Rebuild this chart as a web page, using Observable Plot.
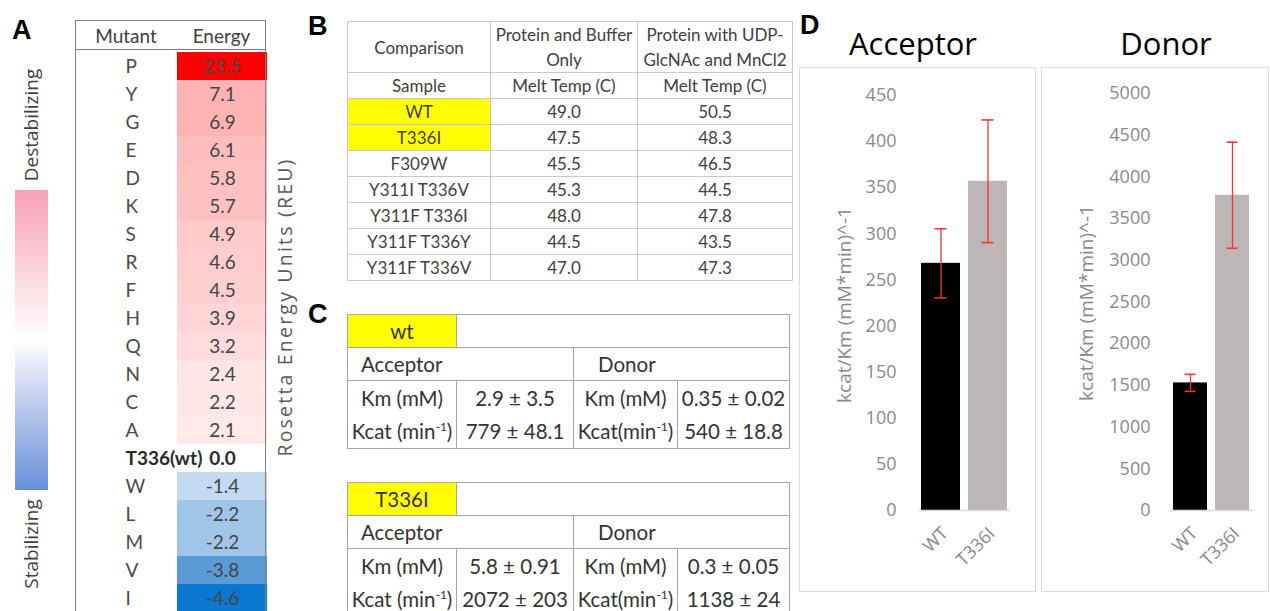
<!DOCTYPE html>
<html><head><meta charset="utf-8">
<script src="https://cdn.jsdelivr.net/npm/d3@7"></script>
<script src="https://cdn.jsdelivr.net/npm/@observablehq/plot@0.6"></script>
<style>
html,body{margin:0;padding:0;background:#fff;overflow:hidden;}
#root{position:relative;width:1270px;height:611px;overflow:hidden;font-family:Lato,sans-serif;background:#fff;}
.abs{position:absolute;}
.plabel{position:absolute;font-family:"Liberation Sans",Arial,sans-serif;font-weight:bold;font-size:27px;color:#000;line-height:1;}
.rot{position:absolute;transform:translate(-50%,-50%) rotate(-90deg);white-space:nowrap;line-height:1;}
table.t{position:absolute;border-collapse:collapse;table-layout:fixed;}
#tb{left:347px;top:21px;width:445px;font-size:17px;color:#404040;}
#tb td{border:1px solid #c8c8c8;text-align:center;padding:0;line-height:25px;white-space:nowrap;}
.tc{left:347px;width:442px;font-size:20.5px;color:#333;}
.tc td{border:1px solid #a5a5a5;text-align:center;padding:0;white-space:nowrap;line-height:1;}
.tc sup{font-size:12px;}
.yel{background:#ffff00;}
.ttl{position:absolute;font-family:"Open Sans",sans-serif;font-size:31px;line-height:1;color:#000;transform:translateX(-50%);white-space:nowrap;}
.frame{position:absolute;border:1.5px solid #dcdcdc;box-sizing:border-box;}
</style></head>
<body><div id="root"></div>
<script>
// ---------- data ----------
const mutants = ["P","Y","G","E","D","K","S","R","F","H","Q","N","C","A","T336(wt)","W","L","M","V","I"];
const energies = [23.5,7.1,6.9,6.1,5.8,5.7,4.9,4.6,4.5,3.9,3.2,2.4,2.2,2.1,0.0,-1.4,-2.2,-2.2,-3.8,-4.6];

const meltSamples = ["WT","T336I","F309W","Y311I T336V","Y311F T336I","Y311F T336Y","Y311F T336V"];
const meltBuffer = ["49.0","47.5","45.5","45.3","48.0","44.5","47.0"];
const meltLigand = ["50.5","48.3","46.5","44.5","47.8","43.5","47.3"];
const highlighted = ["WT","T336I"];

const kinVariants = ["wt","T336I"];
const accKm = ["2.9 ± 3.5","5.8 ± 0.91"];
const accKcat = ["779 ± 48.1","2072 ± 203"];
const donKm = ["0.35 ± 0.02","0.3 ± 0.05"];
const donKcat = ["540 ± 18.8","1138 ± 24"];

const samples = ["WT","T336I"];
const acceptorEff = [268, 357];
const acceptorErr = [37.5, 66.5];
const donorEff = [1530, 3780];
const donorErr = [102, 636];
const acceptorTicks = [0,50,100,150,200,250,300,350,400,450];
const donorTicks = [0,500,1000,1500,2000,2500,3000,3500,4000,4500,5000];

// ---------- helpers ----------
const root = document.getElementById("root");
function el(tag, cls, style, html){
  const e = document.createElement(tag);
  if (cls) e.className = cls;
  if (style) e.setAttribute("style", style);
  if (html != null) e.innerHTML = html;
  root.appendChild(e);
  return e;
}

// ---------- panel labels ----------
el("div","plabel","left:12px;top:17px;","A");
el("div","plabel","left:308px;top:13px;","B");
el("div","plabel","left:308px;top:301px;","C");
el("div","plabel","left:800px;top:12px;","D");

// ---------- Panel A ----------
el("div","abs","left:15px;top:190px;width:33px;height:300px;background:linear-gradient(to bottom,#f8a0b4 0%,#fde3e9 35%,#ffffff 50%,#c5d3f0 68%,#6890d9 100%);");
el("div","rot","left:31px;top:125px;font-family:'Open Sans';font-size:19px;color:#404040;","Destabilizing");
el("div","rot","left:31px;top:544px;font-family:'Open Sans';font-size:19px;color:#404040;","Stabilizing");
el("div","rot","left:285px;top:307px;font-family:'Open Sans';font-size:19.5px;letter-spacing:2.2px;color:#595959;","Rosetta Energy Units (REU)");

const aData = mutants.map((m,i)=>({mutant:m, energy:energies[i], col:"Energy"}));
const plotA = Plot.plot({
  width:192, height:593, marginTop:30, marginBottom:0, marginLeft:102, marginRight:0,
  x:{domain:["Energy"], padding:0, axis:null},
  y:{domain:mutants, padding:0, axis:null},
  color:{type:"linear", domain:[-4.6,-3.8,0,23.5], range:["#0a78d0","#5b9bd5","#ffffff","#ff0000"]},
  style:{fontFamily:"Lato", fontSize:"19px", background:"transparent", overflow:"visible"},
  marks:[
    Plot.cell(aData,{x:"col", y:"mutant", fill:"energy", inset:0}),
    Plot.text(aData,{filter:d=>d.energy!==0, x:"col", y:"mutant", text:d=>d.energy.toFixed(1), fill:"#454545"}),
    Plot.text(aData,{filter:d=>d.energy===0, x:"col", y:"mutant", text:d=>d.energy.toFixed(1), fill:"#2a2a2a", fontWeight:"bold"}),
    Plot.text(aData,{filter:d=>d.energy!==0, y:"mutant", text:"mutant", frameAnchor:"left", dx:-52, fill:"#4a4a4a"}),
    Plot.text(aData,{filter:d=>d.energy===0, y:"mutant", text:"mutant", frameAnchor:"left", dx:-52, fill:"#2a2a2a", fontWeight:"bold"})
  ]
});
const aWrap = el("div","abs","left:75px;top:20px;");
aWrap.appendChild(plotA);
el("div","abs","left:75px;top:20px;width:191px;height:620px;border:1.5px solid #808080;box-sizing:border-box;");
el("div","abs","left:75px;top:49px;width:191px;height:0;border-top:1.5px solid #808080;");
el("div","abs","left:75px;top:20px;width:102px;height:30px;line-height:31px;text-align:center;font-size:19px;color:#404040;","Mutant");
el("div","abs","left:177px;top:20px;width:89px;height:30px;line-height:31px;text-align:center;font-size:19px;color:#404040;","Energy");

// ---------- Panel B ----------
(function(){
  const t = el("table","t","");
  t.id = "tb";
  const widths=[143,147,155];
  let h = "<colgroup>"+widths.map(w=>`<col style="width:${w}px">`).join("")+"</colgroup>";
  h += `<tr style="height:51px"><td>Comparison</td><td>Protein and Buffer<br>Only</td><td>Protein with UDP-<br>GlcNAc and MnCl2</td></tr>`;
  h += `<tr style="height:25px"><td>Sample</td><td>Melt Temp (C)</td><td>Melt Temp (C)</td></tr>`;
  const rh=[26,26,25,26,26,26,25];
  meltSamples.forEach((s,i)=>{
    h += `<tr style="height:${rh[i]}px"><td class="${highlighted.includes(s)?'yel':''}">${s}</td><td>${meltBuffer[i]}</td><td>${meltLigand[i]}</td></tr>`;
  });
  t.innerHTML = h;
})();

// ---------- Panel C ----------
function kinTable(i, top){
  const t = el("table","t tc","top:"+top+"px;");
  const widths=[109,117,104,112];
  let h = "<colgroup>"+widths.map(w=>`<col style="width:${w}px">`).join("")+"</colgroup>";
  h += `<tr style="height:33px"><td class="yel">${kinVariants[i]}</td><td colspan="3"></td></tr>`;
  h += `<tr style="height:33px"><td colspan="2" style="text-align:left;padding-left:13px">Acceptor</td><td colspan="2" style="text-align:left;padding-left:24px">Donor</td></tr>`;
  h += `<tr style="height:34px"><td style="border-bottom:none">Km (mM)</td><td style="border-bottom:none">${accKm[i]}</td><td style="border-bottom:none">Km (mM)</td><td style="border-bottom:none">${donKm[i]}</td></tr>`;
  h += `<tr style="height:34px"><td style="border-top:none">Kcat (min<sup>-1</sup>)</td><td style="border-top:none">${accKcat[i]}</td><td style="border-top:none">Kcat(min<sup>-1</sup>)</td><td style="border-top:none">${donKcat[i]}</td></tr>`;
  t.innerHTML = h;
}
kinTable(0, 314);
kinTable(1, 482);

// ---------- Panel D ----------
function barChart(vals, errs, ticks, opts){
  const data = samples.map((s,i)=>({sample:s, v:vals[i], lo:vals[i]-errs[i], hi:vals[i]+errs[i]}));
  const capInset = (opts.band-12)/2;
  return Plot.plot({
    width:opts.width, height:525, marginTop:opts.mt, marginBottom:82, marginLeft:opts.ml, marginRight:opts.mr,
    x:{domain:samples, paddingInner:opts.pi, paddingOuter:opts.po, axis:null},
    y:{domain:[0, ticks[ticks.length-1]]},
    color:{domain:samples, range:["#000000","#bdb6b6"]},
    style:{fontFamily:"Open Sans", fontSize:"18px", color:"#898989", background:"transparent", overflow:"visible"},
    marks:[
      Plot.barY(data,{x:"sample", y:"v", fill:"sample"}),
      Plot.ruleY([0],{stroke:"#d9d9d9", strokeWidth:1.5}),
      Plot.ruleX(data,{x:"sample", y1:"lo", y2:"hi", stroke:"#ff3030", strokeWidth:1.3}),
      Plot.tickY(data,{x:"sample", y:"lo", stroke:"#ff3030", strokeWidth:1.6, insetLeft:capInset, insetRight:capInset}),
      Plot.tickY(data,{x:"sample", y:"hi", stroke:"#ff3030", strokeWidth:1.6, insetLeft:capInset, insetRight:capInset}),
      Plot.axisY({ticks:ticks, tickSize:0, tickPadding:opts.tp, label:null, tickFormat:d=>String(d), fill:"#898989", fontSize:18}),
      Plot.text(data,{x:"sample", text:"sample", frameAnchor:"bottom", rotate:-45, textAnchor:"end", lineAnchor:"middle", dx:4, dy:20, fill:"#898989", fontSize:18})
    ]
  });
}
el("div","frame","left:799px;top:67px;width:237px;height:525px;");
el("div","frame","left:1041px;top:67px;width:228px;height:525px;");
el("div","ttl","left:913px;top:28px;","Acceptor");
el("div","ttl","left:1166px;top:28px;","Donor");

const accPlot = barChart(acceptorEff, acceptorErr, acceptorTicks, {width:236, mt:28, ml:119, mr:26, pi:0.17, po:0.05, band:39, tp:23});
const accWrap = el("div","abs","left:800px;top:67px;");
accWrap.appendChild(accPlot);
const donPlot = barChart(donorEff, donorErr, donorTicks, {width:227, mt:26, ml:129, mr:15, pi:0.19, po:0.08, band:35, tp:20});
const donWrap = el("div","abs","left:1041px;top:67px;");
donWrap.appendChild(donPlot);

el("div","rot","left:844px;top:305px;font-family:'Open Sans';font-size:19px;color:#898989;","kcat/Km (mM*min)^-1");
el("div","rot","left:1086px;top:303px;font-family:'Open Sans';font-size:19px;color:#898989;","kcat/Km (mM*min)^-1");
</script>
</body></html>
